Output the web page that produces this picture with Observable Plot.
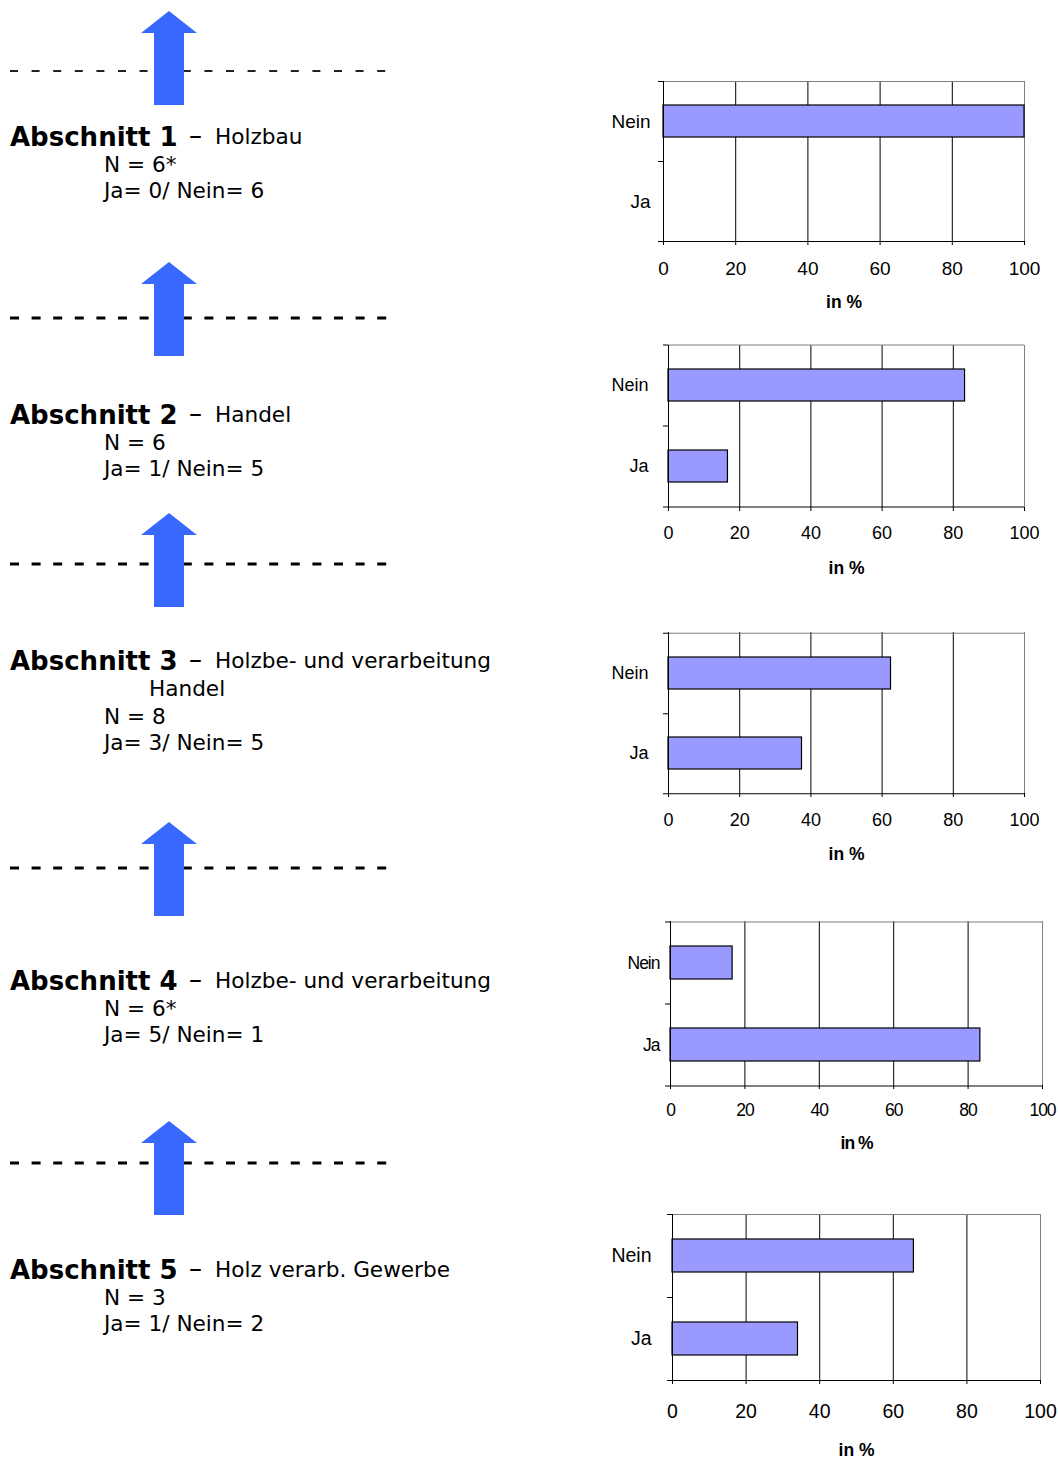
<!DOCTYPE html>
<html>
<head>
<meta charset="utf-8">
<script src="https://cdn.jsdelivr.net/npm/d3@7"></script>
<script src="https://cdn.jsdelivr.net/npm/@observablehq/plot@0.6"></script>
<style>
  html, body { margin: 0; padding: 0; background: #fff; }
  #root { position: relative; width: 1058px; height: 1461px; overflow: hidden; background: #fff; }
  #left { position: absolute; left: 0; top: 0; }
  .chart { position: absolute; left: 590px; }
</style>
</head>
<body>
<div id="root"></div>
<script>
// ---------- data ----------
const sectionTitles = ["Abschnitt 1", "Abschnitt 2", "Abschnitt 3", "Abschnitt 4", "Abschnitt 5"];
const branches = [["Holzbau"], ["Handel"], ["Holzbe- und verarbeitung", "Handel"], ["Holzbe- und verarbeitung"], ["Holz verarb. Gewerbe"]];
const nLabels = ["6*", "6", "8", "6*", "3"];
const jaCounts = [0, 1, 3, 5, 1];
const neinCounts = [6, 5, 5, 1, 2];
const categories = ["Nein", "Ja"];
const neinPct = [100, 83.3, 62.5, 16.7, 65.6];
const jaPct = [0, 16.7, 37.5, 83.3, 34.1];
const xTicks = [0, 20, 40, 60, 80, 100];
const axisLabel = "in %";

// ---------- layout ----------
const W = 1058, H = 1461;
const arrowTips = [11, 262, 513, 822, 1121];
const dashY = [71, 318, 564, 868, 1163];
const titleBase = [146, 424, 670, 990, 1279];

const root = document.getElementById("root");
const svgNS = "http://www.w3.org/2000/svg";
const left = document.createElementNS(svgNS, "svg");
left.setAttribute("id", "left");
left.setAttribute("width", 600);
left.setAttribute("height", H);
root.appendChild(left);

function el(name, attrs, parent = left) {
  const e = document.createElementNS(svgNS, name);
  for (const k in attrs) e.setAttribute(k, attrs[k]);
  parent.appendChild(e);
  return e;
}

sectionTitles.forEach((t, i) => {
  // dashed line
  const first = i === 0;
  el("line", {
    x1: 10, x2: first ? 388 : 395, y1: dashY[i], y2: dashY[i],
    stroke: first ? "#222" : "#000",
    "stroke-width": first ? 2 : 3,
    "stroke-dasharray": first ? "8 13.6" : "9 12.6"
  });
  // arrow
  const y0 = arrowTips[i];
  const pts = [[169, y0], [197, y0 + 22], [184, y0 + 22], [184, y0 + 94], [154, y0 + 94], [154, y0 + 22], [141, y0 + 22]];
  el("polygon", {points: pts.map(p => p.join(",")).join(" "), fill: "#3868ff"});

  // text
  const b = titleBase[i];
  const font = "DejaVu Sans, Verdana, sans-serif";
  const fs = 21.6;
  const tt = el("text", {x: 10, y: b, "font-family": font, "font-size": 26, "font-weight": "bold", fill: "#000"});
  tt.textContent = t;
  const dash = el("text", {x: 189, y: b - 2, "font-family": font, "font-size": 26, fill: "#000"});
  dash.textContent = "–";
  let y = b - 2;
  branches[i].forEach((br, j) => {
    const s = el("text", {x: j === 0 ? 215 : 149, y: y, "font-family": font, "font-size": fs, fill: "#000"});
    s.textContent = br;
    y += 28;
  });
  const n = el("text", {x: 104, y: y, "font-family": font, "font-size": fs, fill: "#000"});
  n.textContent = "N = " + nLabels[i];
  y += 26;
  const jn = el("text", {x: 104, y: y, "font-family": font, "font-size": fs, fill: "#000"});
  jn.textContent = "Ja= " + jaCounts[i] + "/ Nein= " + neinCounts[i];
});

// ---------- charts ----------
const frames = [
  {L: 663, R: 1024, T: 81, B: 241, fs: 19, tp: 16, yp: 13, lab: 61, ls: "0px"},
  {L: 668, R: 1024, T: 345, B: 507, fs: 18, tp: 15, yp: 20, lab: 61, ls: "0px"},
  {L: 668, R: 1024, T: 632, B: 793, fs: 18, tp: 16, yp: 20, lab: 61, ls: "0px"},
  {L: 670, R: 1042, T: 921, B: 1085, fs: 17.5, tp: 14, yp: 11, lab: 58, ls: "-1px"},
  {L: 672, R: 1040, T: 1214, B: 1380, fs: 19.5, tp: 20, yp: 21, lab: 70, ls: "0px"}
];

frames.forEach((f, i) => {
  const mt = 20, mb = 85;
  const fh = f.B - f.T;
  const step = fh / 2;
  const data = categories.map(c => ({cat: c, value: c === "Nein" ? neinPct[i] : jaPct[i]}));
  const chart = Plot.plot({
    width: 468,
    height: fh + mt + mb,
    marginLeft: f.L - 590,
    marginRight: W - f.R,
    marginTop: mt,
    marginBottom: mb,
    style: {fontFamily: "Liberation Sans, Arial, sans-serif", fontSize: f.fs + "px", color: "#000", background: "transparent", overflow: "visible", letterSpacing: f.ls},
    x: {domain: [0, 100]},
    y: {domain: categories, paddingInner: 0.6, paddingOuter: 0.3},
    marks: [
      Plot.ruleX(xTicks.slice(1, -1), {stroke: "#000", strokeWidth: 1}),
      Plot.ruleX([100], {stroke: "#808080", strokeWidth: 1}),
      Plot.ruleY(["Nein"], {y: d => d, dy: -step / 2, stroke: "#808080"}),
      Plot.barX(data, {filter: d => d.value > 0, x: "value", y: "cat", fill: "#9999ff", stroke: "#000", strokeWidth: 1.2}),
      Plot.ruleX([0], {stroke: "#000"}),
      Plot.ruleY(["Ja"], {y: d => d, dy: step / 2, stroke: "#000", insetLeft: -5}),
      Plot.ruleY(["Nein"], {y: d => d, dy: -step / 2, x1: 0, x2: 0, insetLeft: -5, stroke: "#000"}),
      Plot.ruleY(["Nein"], {y: d => d, dy: step / 2, x1: 0, x2: 0, insetLeft: -5, stroke: "#000"}),
      Plot.axisX({ticks: xTicks, tickSize: 4, tickPadding: f.tp, label: null, fontSize: f.fs}),
      Plot.axisY({tickSize: 0, tickPadding: f.yp, label: null, fontSize: f.fs}),
      Plot.text([axisLabel], {text: d => d, frameAnchor: "bottom", lineAnchor: "middle", dy: f.lab, fontWeight: "bold", fontSize: 17.5})
    ]
  });
  const div = document.createElement("div");
  div.className = "chart";
  div.style.top = (f.T - mt) + "px";
  div.appendChild(chart);
  root.appendChild(div);
});
</script>
</body>
</html>
